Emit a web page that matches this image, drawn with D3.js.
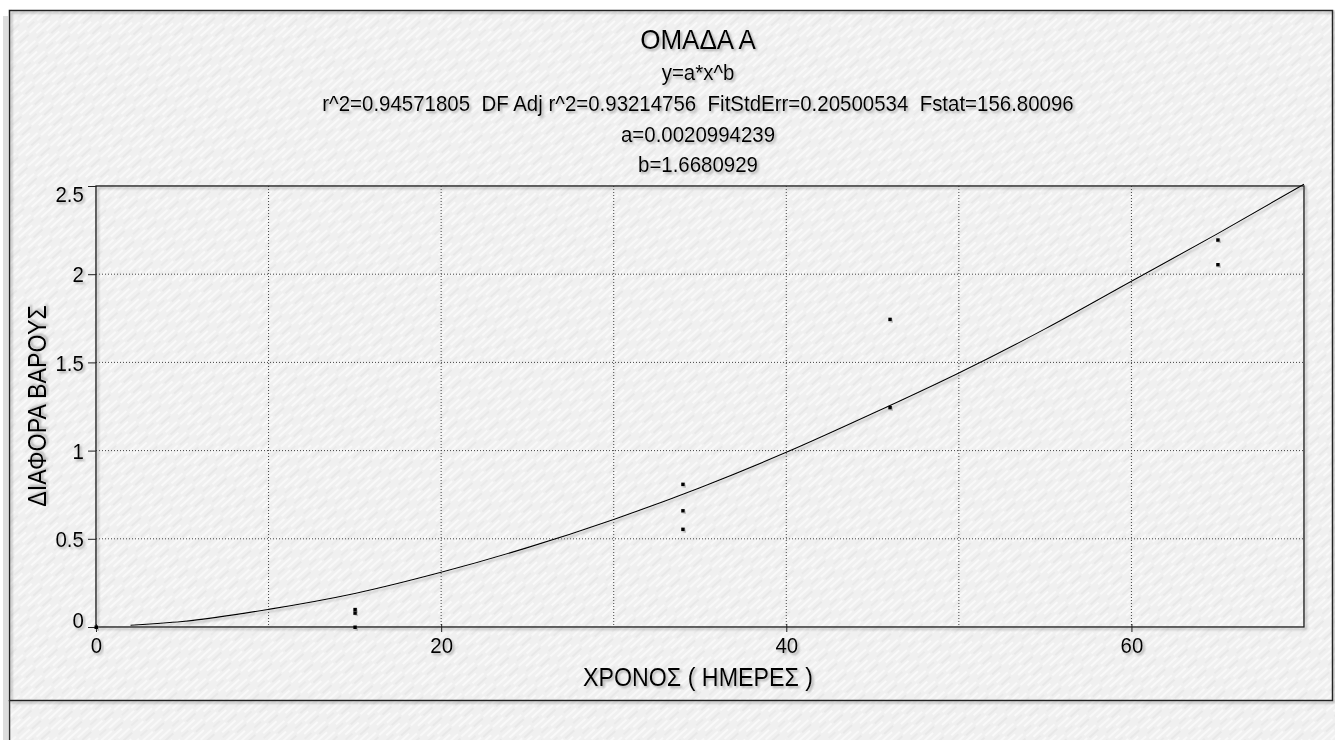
<!DOCTYPE html>
<html>
<head>
<meta charset="utf-8">
<script src="https://cdn.jsdelivr.net/npm/d3@7"></script>
<style>
  body { margin: 0; background: #fff; }
  svg text { font-family: "Liberation Sans", Arial, sans-serif; fill: #000; }
</style>
</head>
<body>
<script>
// measured points
const days = [0, 15, 15, 15, 34, 34, 34, 46, 46, 65, 65]
const weightDiff = [0, 0.1, 0.08, 0, 0.81, 0.66, 0.555, 1.745, 1.245, 2.195, 2.055]

// fitted curve y=a*x^b
const fitDays = [2, 5, 10, 15, 20, 25, 30, 35, 40, 45, 50, 55, 60, 65, 70]
const fitValues = [0.01, 0.031, 0.1, 0.19, 0.31, 0.45, 0.61, 0.79, 0.99, 1.21, 1.44, 1.69, 1.96, 2.23, 2.51]

const xTicks = [0, 20, 40, 60]
const xGrid = [10, 20, 30, 40, 50, 60]
const yTicks = [0, 0.5, 1, 1.5, 2, 2.5]

const titleLines = [
    "y=a*x^b",
    "r^2=0.94571805  DF Adj r^2=0.93214756  FitStdErr=0.20500534  Fstat=156.80096",
    "a=0.0020994239",
    "b=1.6680929"
]

const width = 1335
const height = 740
const plot = {left: 96, right: 1304, top: 186, bottom: 627}
const squeeze = 0.93   // the original font is a bit narrow

const svg = d3.select('body').append('svg')
    .attr('width', width)
    .attr('height', height)

const defs = svg.append('defs')

// paper texture
const pat = defs.append('pattern')
    .attr('id', 'paper')
    .attr('patternUnits', 'userSpaceOnUse')
    .attr('width', 30).attr('height', 14)
    .attr('patternTransform', 'rotate(-42)')
pat.append('rect').attr('width', 30).attr('height', 14).attr('fill', '#f0f0f0')
const streaks = [[0, 2, 14, '#fbfbfb'], [16, 3, 12, '#e7e7e7'], [5, 7, 18, '#fcfcfc'],
                 [2, 11, 9, '#e9e9e9'], [14, 12, 15, '#fafafa']]
streaks.forEach(s => {
    pat.append('line')
        .attr('x1', s[0]).attr('x2', s[0] + s[2])
        .attr('y1', s[1]).attr('y2', s[1])
        .attr('stroke', s[3]).attr('stroke-width', 1.6)
})

const shadow = defs.append('filter').attr('id', 'shadow')
    .attr('x', '-5%').attr('y', '-20%').attr('width', '115%').attr('height', '150%')
shadow.append('feDropShadow')
    .attr('dx', 2).attr('dy', 2).attr('stdDeviation', 1.2)
    .attr('flood-color', '#777').attr('flood-opacity', 0.55)

// background + frame
svg.append('rect').attr('x', 9).attr('y', 10).attr('width', width - 9).attr('height', height - 10)
    .attr('fill', 'url(#paper)')
svg.append('rect').attr('x', 3).attr('y', 16).attr('width', 5).attr('height', height - 16)
    .attr('fill', '#ddd')
svg.append('rect')
    .attr('x', 9.5).attr('y', 10.5).attr('width', 1323).attr('height', 690)
    .attr('fill', 'none').attr('stroke', '#222').attr('stroke-width', 1.5)
    .attr('filter', 'url(#shadow)')
svg.append('line').attr('x1', 9.5).attr('x2', 9.5).attr('y1', 700).attr('y2', height)
    .attr('stroke', '#333').attr('stroke-width', 1.5)

const x = d3.scaleLinear().domain([0, 70]).range([plot.left, plot.right])
const y = d3.scaleLinear().domain([0, 2.5]).range([plot.bottom, plot.top])

function label(parent, tx, ty, size, txt, rot) {
    return parent.append('text')
        .attr('transform', `translate(${tx},${ty})` + (rot ? ` rotate(${rot})` : '') + ` scale(${squeeze},1)`)
        .attr('text-anchor', 'middle')
        .attr('font-size', size)
        .attr('filter', 'url(#shadow)')
        .style('white-space', 'pre')
        .text(txt)
}

// titles
label(svg, 698, 49, 28, 'ΟΜΑΔΑ Α')
titleLines.forEach((t, i) => label(svg, 698, 80 + i * 30.8, 22, t))

// grid
const g = svg.append('g')
g.selectAll('.vgrid')
    .data(xGrid)
    .enter()
    .append('line')
        .attr('x1', d => x(d)).attr('x2', d => x(d))
        .attr('y1', plot.top).attr('y2', plot.bottom)
        .attr('stroke', '#444').attr('stroke-width', 1)
        .attr('stroke-dasharray', '1,2')
g.selectAll('.hgrid')
    .data(yTicks.filter(d => d > 0 && d < 2.5))
    .enter()
    .append('line')
        .attr('x1', plot.left).attr('x2', plot.right)
        .attr('y1', d => y(d)).attr('y2', d => y(d))
        .attr('stroke', '#444').attr('stroke-width', 1)
        .attr('stroke-dasharray', '1,2')

// plot border
g.append('rect')
    .attr('x', plot.left).attr('y', plot.top)
    .attr('width', plot.right - plot.left).attr('height', plot.bottom - plot.top)
    .attr('fill', 'none').attr('stroke', '#111').attr('stroke-width', 1.3)
    .attr('filter', 'url(#shadow)')

// axes
const yAxis = svg.append('g')
    .attr('transform', `translate(${plot.left},0)`)
    .call(d3.axisLeft(y).tickValues(yTicks).tickFormat(d3.format('')).tickSize(8).tickPadding(5))
yAxis.select('.domain').remove()
yAxis.selectAll('.tick line').attr('stroke', '#222')
yAxis.selectAll('text')
    .attr('font-size', 22)
    .attr('filter', 'url(#shadow)')
    .attr('transform', `scale(${squeeze},1)`)
    .attr('dy', d => d == 2.5 ? '0.7em' : (d == 0 ? '0.02em' : '0.35em'))

const xAxis = svg.append('g')
    .attr('transform', `translate(0,${plot.bottom})`)
    .call(d3.axisBottom(x).tickValues(xTicks).tickSize(5).tickPadding(5))
xAxis.select('.domain').remove()
xAxis.selectAll('.tick line').attr('stroke', '#222').attr('y1', -3)
xAxis.selectAll('text')
    .attr('font-size', 22)
    .attr('filter', 'url(#shadow)')
    .attr('transform', `scale(${squeeze},1)`)

// axis titles
label(svg, 698, 686, 25, 'ΧΡΟΝΟΣ ( ΗΜΕΡΕΣ )')
label(svg, 46, 406, 25, 'ΔΙΑΦΟΡΑ ΒΑΡΟΥΣ', -90)

// fitted curve
const fitLine = d3.line()
    .x((d, i) => x(fitDays[i]))
    .y(d => y(d))
    .curve(d3.curveMonotoneX)
svg.append('path')
    .datum(fitValues)
    .attr('d', fitLine)
    .attr('fill', 'none')
    .attr('stroke', '#000')
    .attr('stroke-width', 1.1)
    .attr('filter', 'url(#shadow)')

// data points
svg.selectAll('.pt')
    .data(weightDiff)
    .enter()
    .append('rect')
        .attr('class', 'pt')
        .attr('x', (d, i) => x(days[i]) - 1.5)
        .attr('y', d => y(d) - 1.5)
        .attr('width', 3.5).attr('height', 3.5)
        .attr('fill', '#000')
        .attr('filter', 'url(#shadow)')
</script>
</body>
</html>
